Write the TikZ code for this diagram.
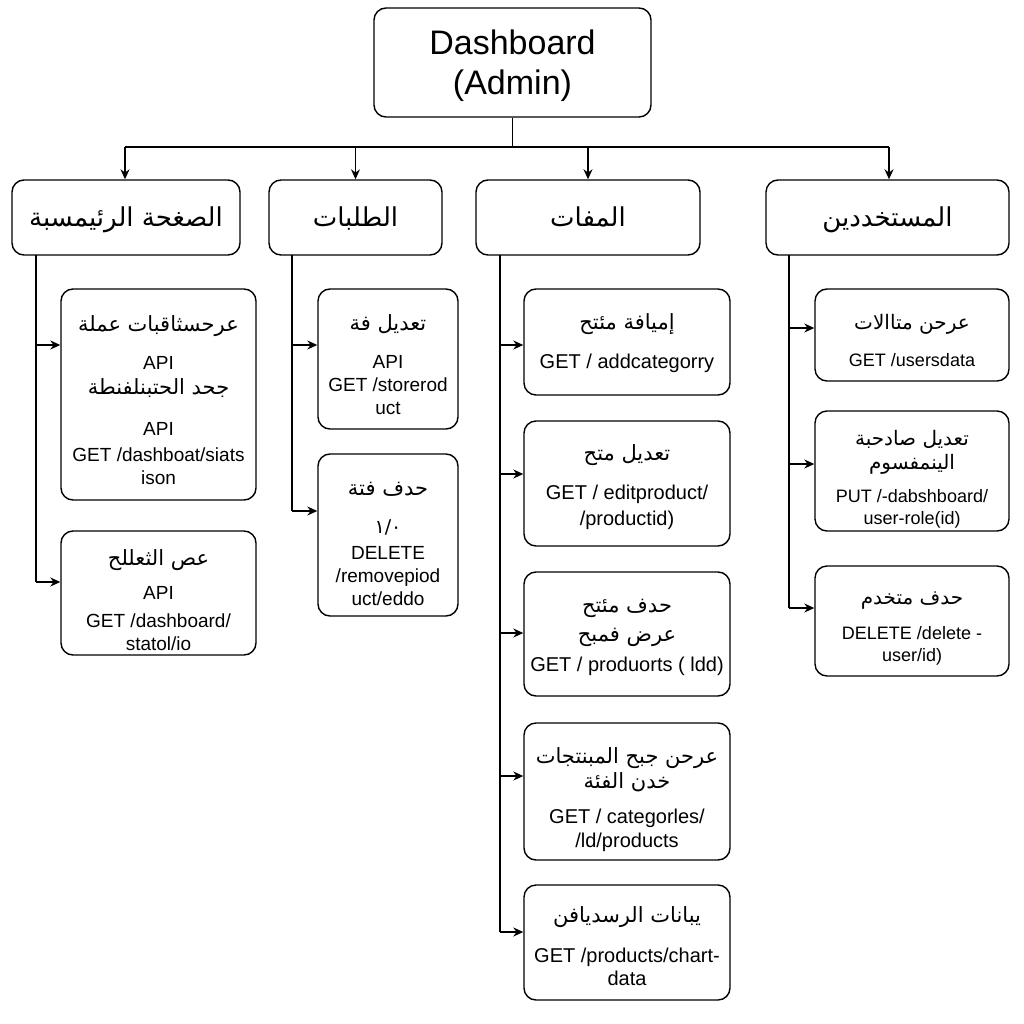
\documentclass[tikz,border=0pt]{standalone}
\usepackage{fontspec}
\setmainfont{Liberation Sans}
\newfontfamily\arfont[Script=Arabic]{DejaVu Sans}
\TeXXeTstate=1
\usetikzlibrary{arrows.meta}
\newcommand{\AR}[1]{{\arfont\beginR #1\endR}}
\newcommand{\ARc}[1]{{\fontsize{21}{23}\arfont\beginR #1\endR}}
\newcommand{\ARd}[1]{{\fontsize{20}{22}\arfont\beginR #1\endR}}
\begin{document}
\begin{tikzpicture}[x=1pt,y=-1pt,
  box/.style={draw, rounded corners=12pt, line width=1.4pt, align=center, inner sep=0pt},
  topbox/.style={box, minimum height=75pt, text height=21pt, text depth=3pt, font=\fontsize{26}{30}\selectfont},
  txt/.style={align=center, inner sep=0pt, font=\fontsize{19}{23}\selectfont},
  dtxt/.style={txt, font=\fontsize{18}{22}\selectfont},
  ctxt/.style={txt, font=\fontsize{20}{23}\selectfont},
  conn/.style={line width=1.3pt},
  arr/.style={conn, -{Stealth[length=10pt,width=9pt]}}]
\useasboundingbox (0,0) rectangle (1024,1024);
% root
\node[box, minimum width=277pt, minimum height=109pt] (root) at (512.5,62.5) {};
\node[txt, font=\fontsize{34}{40}\selectfont] (roott) at ([yshift=-3pt]root.center) {Dashboard\\(Admin)};
% level 1
\node[topbox, minimum width=228pt] (A) at (126,217.5) {\AR{الصغحة الرئيمسبة}};
\node[topbox, minimum width=173pt] (B) at (355.5,217.5) {\AR{الطلبات}};
\node[topbox, minimum width=224pt] (C) at (588,217.5) {\AR{المفات}};
\node[topbox, minimum width=243pt] (D) at (887.5,217.5) {\AR{المستخددين}};
% column A
\node[box, minimum width=195pt, minimum height=211pt] (A1) at (158.5,394.5) {};
\node[txt] (A1t) at ([yshift=-6pt]A1.center)
 {\ARc{عرحسثاقبات عملة}\\[15pt]API\\[2pt]\ARc{جحد الحتبنلفنطة}\\[18pt]API\\[3pt]GET /dashboat/siats\\ison};
\node[box, minimum width=195pt, minimum height=124pt] (A2) at (158.5,593) {};
\node[txt] (A2t) at ([yshift=-7pt]A2.center)
 {\ARc{عص الثعللح}\\[11pt]API\\[5pt]GET /dashboard/\\statol/io};
% column B
\node[box, minimum width=140pt, minimum height=140pt] (B1) at (388,359) {};
\node[txt] (B1t) at ([yshift=-6pt]B1.center)
 {\ARc{تعديل فة}\\[15pt]API\\GET /storerod\\uct};
\node[box, minimum width=140pt, minimum height=162pt] (B2) at (388,535) {};
\node[txt] (B2t) at ([yshift=-9pt]B2.center)
 {\ARc{حدف فتة}\\[15pt]\AR{١/٠}\\[3pt]DELETE\\/removepiod\\uct/eddo};
% column C
\node[box, minimum width=206pt, minimum height=106pt] (C1) at (627,342) {};
\node[ctxt] (C1t) at ([yshift=-1pt]C1.center) {\ARc{إميافة مئتح}\\[16pt]GET / addcategorry};
\node[box, minimum width=206pt, minimum height=125pt] (C2) at (627,483.5) {};
\node[ctxt] (C2t) at ([yshift=-4pt]C2.center) {\ARc{تعديل متح}\\[16pt]GET / editproduct/\\[3pt]/productid)};
\node[box, minimum width=206pt, minimum height=124pt] (C3) at (627,634) {};
\node[ctxt] (C3t) at ([yshift=-3pt]C3.center) {\ARc{حدف مئتح}\\[6pt]\ARc{عرض فمبح}\\[7pt]GET / produorts ( ldd)};
\node[box, minimum width=206pt, minimum height=137pt] (C4) at (627,791.5) {};
\node[ctxt] (C4t) at ([yshift=-8pt]C4.center) {\ARc{عرحن جبح المبنتجات}\\[2pt]\ARc{خدن الفئة}\\[12pt]GET / categorles/\\[1pt]/ld/products};
\node[box, minimum width=206pt, minimum height=115pt] (C5) at (627,942.5) {};
\node[ctxt] (C5t) at ([yshift=-4pt]C5.center) {\ARc{يبانات الرسديافن}\\[17pt]GET /products/chart-\\data};
% column D
\node[box, minimum width=194pt, minimum height=92pt] (D1) at (912,335) {};
\node[dtxt] (D1t) at ([yshift=-5pt]D1.center) {\ARd{عرحن متاالات}\\[15pt]GET /usersdata};
\node[box, minimum width=194pt, minimum height=120pt] (D2) at (912,471) {};
\node[dtxt] (D2t) at ([yshift=-8pt]D2.center) {\ARd{تعديل صادحبة}\\[2pt]\ARd{الينمفسوم}\\[11pt]PUT /-dabshboard/\\user-role(id)};
\node[box, minimum width=194pt, minimum height=110pt] (D3) at (912,621) {};
\node[dtxt] (D3t) at ([yshift=-8pt]D3.center) {\ARd{حدف متخدم}\\[13pt]DELETE /delete -\\user/id)};
% top connectors
\coordinate (busL) at (125,147);
\coordinate (busR) at (889,147);
\draw[conn] (root.south) -- (root.south |- busL);
\draw[conn] (busL) -- (busR);
\draw[arr] (busL) -- (busL |- A.north);
\draw[arr] (B.north |- busL) -- (B.north);
\draw[arr] (C.north |- busL) -- (C.north);
\draw[arr] (busR) -- (busR |- D.north);
% trunks
\coordinate (ta) at (36,255);
\coordinate (tb) at (292,255);
\coordinate (tc) at (500,255);
\coordinate (td) at (789,255);
\draw[conn] (ta) -- (36,582);
\draw[arr] (36,345) -- (A1.west |- 0,345);
\draw[arr] (36,582) -- (A2.west |- 0,582);
\draw[conn] (tb) -- (292,511);
\draw[arr] (292,345) -- (B1.west |- 0,345);
\draw[arr] (292,511) -- (B2.west |- 0,511);
\draw[conn] (tc) -- (500,932);
\draw[arr] (500,345) -- (C1.west |- 0,345);
\draw[arr] (500,474) -- (C2.west |- 0,474);
\draw[arr] (500,633) -- (C3.west |- 0,633);
\draw[arr] (500,776) -- (C4.west |- 0,776);
\draw[arr] (500,932) -- (C5.west |- 0,932);
\draw[conn] (td) -- (789,608);
\draw[arr] (789,328) -- (D1.west |- 0,328);
\draw[arr] (789,464) -- (D2.west |- 0,464);
\draw[arr] (789,608) -- (D3.west |- 0,608);
\end{tikzpicture}
\end{document}
